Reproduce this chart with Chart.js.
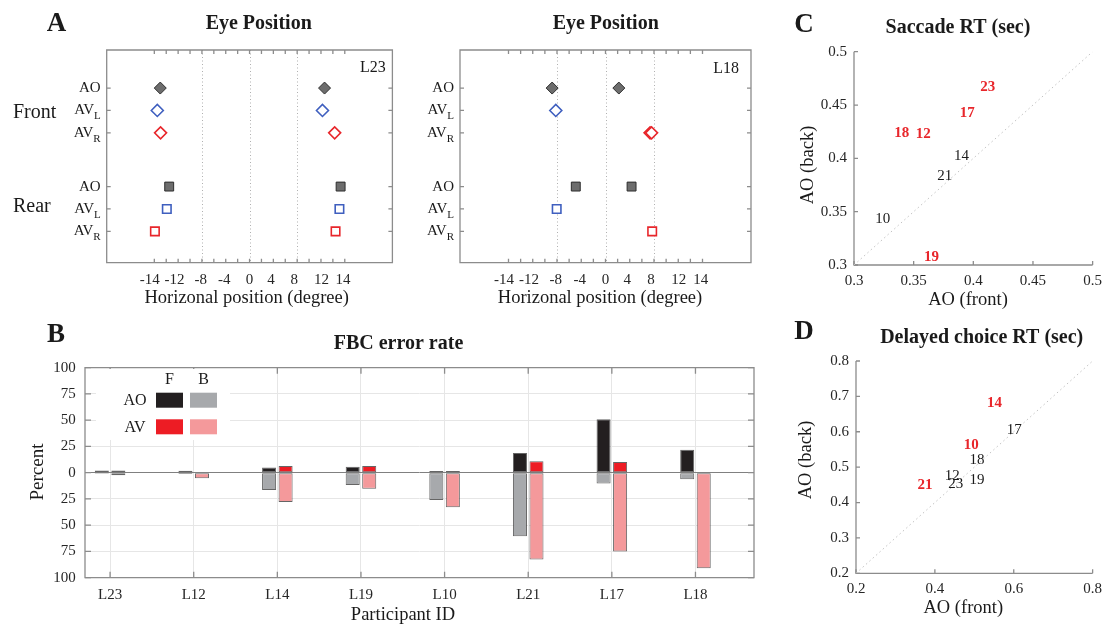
<!DOCTYPE html>
<html>
<head>
<meta charset="utf-8">
<title>Eye position, FBC error rate and RT</title>
<script src="https://cdn.jsdelivr.net/npm/chart.js@4.4.1/dist/chart.umd.min.js"></script>
<style>
  html, body { margin: 0; padding: 0; background: #fff; }
  body { position: relative; width: 1109px; height: 626px; overflow: hidden; }
  canvas { position: absolute; }
</style>
</head>
<body>
<canvas id="eyeL23" width="400" height="320" style="left:0;top:0"></canvas>
<canvas id="eyeL18" width="360" height="320" style="left:400px;top:0"></canvas>
<canvas id="fbc" width="775" height="308" style="left:0;top:318px"></canvas>
<canvas id="saccade" width="329" height="312" style="left:780px;top:0"></canvas>
<canvas id="delayed" width="329" height="316" style="left:780px;top:310px"></canvas>
<script>
// ---- eye position (horizontal position of each fixation, per row) ----
const rowNames = ['AO', 'AV_L', 'AV_R', 'AO', 'AV_L', 'AV_R'];
const rowPos = [1.7, 2.7, 3.7, 6.1, 7.1, 8.1];
const eyeL23 = [[-15.0, 12.6], [-15.5, 12.25], [-14.95, 14.3], [-13.5, 15.3], [-13.9, 15.1], [-15.9, 14.45]];
const eyeL18 = [[-8.8, 2.2], [-8.2], [7.35, 7.6], [-4.9, 4.3], [-8.05], [7.7]];
const eyeTickPos = [-16.75, -12.6, -8.2, -4.25, 0, 3.6, 7.5, 12.1, 15.7];
const eyeTickLabels = ['-14', '-12', '-8', '-4', '0', '4', '8', '12', '14'];
const eyeGuides = [-8, 0, 8];

// ---- FBC error rate (%) ----
const participants = ['L23', 'L12', 'L14', 'L19', 'L10', 'L21', 'L17', 'L18'];
const aoFront = [2, 1.9, 5, 5.7, 1.6, 18.7, 51, 21.8];
const aoBack = [1, 1.2, 16.5, 11.7, 26, 60.5, 10.4, 6.3];
const avFront = [2, 0, 6.3, 6.3, 1.6, 10.8, 10.1, 0];
const avBack = [2.5, 5.4, 28, 15.2, 33, 82.7, 75, 91];
const fbcTicks = [-100, -75, -50, -25, 0, 25, 50, 75, 100];
const legendCols = ['F', 'B'];
const legendRows = ['AO', 'AV'];

// ---- saccade RT (sec) ----
const saccIds = ['23', '17', '18', '12', '14', '21', '10', '19'];
const saccFront = [0.412, 0.395, 0.340, 0.358, 0.390, 0.376, 0.324, 0.365];
const saccBack = [0.467, 0.442, 0.424, 0.423, 0.402, 0.383, 0.343, 0.307];
const saccHigh = [true, true, true, true, false, false, false, true];
const saccTicks = [0.3, 0.35, 0.4, 0.45, 0.5];

// ---- delayed choice RT (sec) ----
const delayIds = ['14', '17', '10', '18', '12', '23', '19', '21'];
const delayFront = [0.551, 0.601, 0.492, 0.507, 0.444, 0.453, 0.507, 0.375];
const delayBack = [0.682, 0.605, 0.563, 0.520, 0.476, 0.452, 0.464, 0.448];
const delayHigh = [true, false, true, false, false, false, false, true];
const delayXTicks = [0.2, 0.4, 0.6, 0.8];
const delayYTicks = [0.2, 0.3, 0.4, 0.5, 0.6, 0.7, 0.8];

const serif = "'Liberation Serif', 'Times New Roman', serif";
const font = (size, bold) => (bold ? 'bold ' : '') + size + 'px ' + serif;
const ink = '#1a1a1a';
const red = '#e8262b';

Chart.defaults.font.family = serif;
Chart.defaults.color = '#262626';
Chart.defaults.animation = false;
Chart.defaults.plugins.legend.display = false;
Chart.defaults.plugins.tooltip.enabled = false;

// free text (titles, panel letters, axis names)
function textLayer(items) {
  return {
    id: 'texts',
    afterDraw(chart) {
      const ctx = chart.ctx;
      items.forEach(t => {
        ctx.save();
        ctx.font = font(t.size, t.bold);
        ctx.fillStyle = t.color || ink;
        ctx.textAlign = t.align || 'center';
        ctx.textBaseline = 'middle';
        ctx.translate(t.x, t.y);
        if (t.rot) ctx.rotate(t.rot);
        ctx.fillText(t.t, 0, 0);
        ctx.restore();
      });
    }
  };
}

// axes box with inward tick marks, plus dotted guides
function frameLayer(o) {
  return {
    id: 'frame',
    beforeDatasetsDraw(chart) {
      const { ctx, chartArea: a, scales } = chart;
      ctx.save();
      if (o.guides) {
        ctx.strokeStyle = '#b0b0b0';
        ctx.lineWidth = 1;
        ctx.setLineDash([1, 2.5]);
        o.guides.forEach(v => {
          const px = Math.round(scales.x.getPixelForValue(v)) + 0.5;
          ctx.beginPath();
          ctx.moveTo(px, a.top);
          ctx.lineTo(px, a.bottom);
          ctx.stroke();
        });
        ctx.setLineDash([]);
      }
      ctx.strokeStyle = o.color;
      ctx.lineWidth = o.width;
      ctx.beginPath();
      (o.xTicks || []).forEach(v => {
        const px = scales.x.getPixelForValue(v);
        ctx.moveTo(px, a.bottom);
        ctx.lineTo(px, a.bottom - o.len);
        if (o.box) { ctx.moveTo(px, a.top); ctx.lineTo(px, a.top + o.len); }
      });
      (o.yTicks || []).forEach(v => {
        const py = scales.y.getPixelForValue(v);
        ctx.moveTo(a.left, py);
        ctx.lineTo(a.left + o.len, py);
        if (o.box) { ctx.moveTo(a.right, py); ctx.lineTo(a.right - o.len, py); }
      });
      ctx.stroke();
      ctx.beginPath();
      if (o.box) {
        ctx.rect(a.left, a.top, a.right - a.left, a.bottom - a.top);
      } else {
        ctx.moveTo(a.left, a.top);
        ctx.lineTo(a.left, a.bottom);
        ctx.lineTo(a.right, a.bottom);
      }
      ctx.stroke();
      ctx.restore();
    }
  };
}

// row names with subscripts (AV_L -> AV with subscript L)
function rowLabelLayer(gap) {
  return {
    id: 'rowLabels',
    afterDraw(chart) {
      const { ctx, chartArea: a, scales } = chart;
      ctx.save();
      ctx.fillStyle = ink;
      ctx.textBaseline = 'middle';
      ctx.textAlign = 'left';
      rowNames.forEach((name, i) => {
        const [main, sub] = name.split('_');
        const y = scales.y.getPixelForValue(rowPos[i]);
        ctx.font = font(15);
        const wm = ctx.measureText(main).width;
        ctx.font = font(11);
        const ws = sub ? ctx.measureText(sub).width : 0;
        const x = a.left - gap - wm - ws;
        ctx.font = font(15);
        ctx.fillText(main, x, y);
        if (sub) {
          ctx.font = font(11);
          ctx.fillText(sub, x + wm, y + 6);
        }
      });
      ctx.restore();
    }
  };
}

const rowStyles = [
  { pointStyle: 'rectRot', pointRadius: 6, backgroundColor: '#6d6d6d', borderColor: '#2e2e2e', borderWidth: 1 },
  { pointStyle: 'rectRot', pointRadius: 6, backgroundColor: '#ffffff', borderColor: '#3f5fbf', borderWidth: 1.6 },
  { pointStyle: 'rectRot', pointRadius: 6, backgroundColor: '#ffffff', borderColor: red, borderWidth: 1.6 },
  { pointStyle: 'rect', pointRadius: 6.3, backgroundColor: '#6d6d6d', borderColor: '#2e2e2e', borderWidth: 1 },
  { pointStyle: 'rect', pointRadius: 6, backgroundColor: '#ffffff', borderColor: '#3f5fbf', borderWidth: 1.6 },
  { pointStyle: 'rect', pointRadius: 6, backgroundColor: '#ffffff', borderColor: red, borderWidth: 1.6 }
];

const minorTicks = [];
for (let v = -16; v <= 16; v += 2) minorTicks.push(v);

function eyeChart(id, values, o) {
  return new Chart(document.getElementById(id), {
    type: 'scatter',
    data: {
      datasets: values.map((xs, r) => Object.assign({
        label: rowNames[r],
        data: xs.map(x => ({ x: x, y: rowPos[r] }))
      }, rowStyles[r]))
    },
    options: {
      responsive: false,
      devicePixelRatio: 1,
      events: [],
      layout: { padding: { top: 50, right: o.right, left: 0, bottom: 0 } },
      scales: {
        x: {
          type: 'linear', min: -24, max: 24,
          grid: { display: false, drawTicks: false },
          border: { display: false },
          afterBuildTicks: ax => { ax.ticks = eyeTickPos.map(v => ({ value: v })); },
          ticks: { autoSkip: false, maxRotation: 0, padding: 8.3, font: { size: 15 },
                   callback: (v, i) => eyeTickLabels[i] },
          afterFit: s => { s.height = 57.3; }
        },
        y: {
          type: 'linear', min: 0, max: 9.5, reverse: true,
          grid: { display: false, drawTicks: false },
          border: { display: false },
          ticks: { display: false },
          afterFit: s => { s.width = o.left; }
        }
      }
    },
    plugins: [
      frameLayer({ box: true, color: '#8c8c8c', width: 1.3, len: 4, xTicks: minorTicks, yTicks: rowPos, guides: eyeGuides }),
      rowLabelLayer(6),
      textLayer(o.texts)
    ]
  });
}

eyeChart('eyeL23', eyeL23, {
  left: 106.7, right: 3.3,
  texts: [
    { t: 'A', x: 56.5, y: 24, size: 27, bold: true },
    { t: 'Eye Position', x: 258.7, y: 24, size: 20, bold: true },
    { t: 'L23', x: 385.7, y: 68, size: 16, align: 'right' },
    { t: 'Front', x: 13, y: 112.7, size: 20, align: 'left' },
    { t: 'Rear', x: 13, y: 206.7, size: 20, align: 'left' },
    { t: 'Horizonal position (degree)', x: 246.7, y: 298.3, size: 18.5 }
  ]
});

eyeChart('eyeL18', eyeL18, {
  left: 60, right: 9,
  texts: [
    { t: 'Eye Position', x: 205.7, y: 24, size: 20, bold: true },
    { t: 'L18', x: 339, y: 69, size: 16, align: 'right' },
    { t: 'Horizonal position (degree)', x: 200, y: 298.3, size: 18.5 }
  ]
});

// ---- FBC error rate: front up, back down, AO and AV side by side ----
function fbcLegendLayer() {
  return {
    id: 'fbcLegend',
    beforeDatasetsDraw(chart) {
      const ctx = chart.ctx;
      const ds = chart.data.datasets;
      ctx.save();
      ctx.fillStyle = '#ffffff';
      ctx.fillRect(96, 51, 134, 71);
      ctx.font = font(16);
      ctx.fillStyle = ink;
      ctx.textAlign = 'center';
      ctx.textBaseline = 'middle';
      const cols = [156, 190];
      const rows = [74.7, 101.3];
      legendCols.forEach((c, k) => ctx.fillText(c, cols[k] + 13.5, 62));
      legendRows.forEach((r, k) => ctx.fillText(r, 135, rows[k] + 8.5));
      ds.forEach((d, k) => {
        ctx.fillStyle = d.backgroundColor;
        ctx.fillRect(cols[k % 2], rows[Math.floor(k / 2)], 27, 15);
      });
      ctx.restore();
    }
  };
}

const barBorder = 'rgba(50,50,50,0.75)';
const toPoints = (vals, sign) => vals.map((v, i) => ({ x: i + 1, y: sign * v }));

new Chart(document.getElementById('fbc'), {
  type: 'bar',
  data: {
    datasets: [
      { label: 'AO F', stack: 'AO', data: toPoints(aoFront, 1), backgroundColor: '#231f20' },
      { label: 'AO B', stack: 'AO', data: toPoints(aoBack, -1), backgroundColor: '#a7a9ac' },
      { label: 'AV F', stack: 'AV', data: toPoints(avFront, 1), backgroundColor: '#ed1c24' },
      { label: 'AV B', stack: 'AV', data: toPoints(avBack, -1), backgroundColor: '#f4999b' }
    ]
  },
  options: {
    responsive: false,
    devicePixelRatio: 1,
    events: [],
    categoryPercentage: 0.395,
    barPercentage: 0.85,
    datasets: { bar: { borderColor: barBorder, borderWidth: 1, borderSkipped: false } },
    layout: { padding: { top: 49.7, right: 21, left: 0, bottom: 0 } },
    scales: {
      x: {
        type: 'linear', min: 0.7, max: 8.7, offset: false,
        grid: { color: '#e6e6e6', drawTicks: false, offset: false },
        border: { display: false },
        afterBuildTicks: ax => { ax.ticks = participants.map((p, i) => ({ value: i + 1 })); },
        ticks: { autoSkip: false, maxRotation: 0, padding: 8.3, font: { size: 15 },
                 callback: (v, i) => participants[i] },
        afterFit: s => { s.height = 48.3; }
      },
      y: {
        type: 'linear', min: -100, max: 100, stacked: true,
        grid: { drawTicks: false, color: c => (c.tick && c.tick.value === 0 ? '#808080' : '#e6e6e6') },
        border: { display: false },
        afterBuildTicks: ax => { ax.ticks = fbcTicks.map(v => ({ value: v })); },
        ticks: { padding: 9.3, font: { size: 15 }, callback: v => String(Math.abs(v)) },
        afterFit: s => { s.width = 85; }
      }
    }
  },
  plugins: [
    frameLayer({ box: true, color: '#8c8c8c', width: 1.3, len: 6,
                 xTicks: participants.map((p, i) => i + 1), yTicks: fbcTicks }),
    fbcLegendLayer(),
    textLayer([
      { t: 'B', x: 56, y: 17, size: 27, bold: true },
      { t: 'FBC error rate', x: 398.5, y: 25.5, size: 20, bold: true },
      { t: 'Percent', x: 38, y: 154, size: 19, rot: -Math.PI / 2 },
      { t: 'Participant ID', x: 403, y: 297, size: 18.5 }
    ])
  ]
});

// ---- RT scatter panels: participant numbers written at (front, back) ----
function idLayer() {
  return {
    id: 'ids',
    afterDatasetsDraw(chart) {
      const ctx = chart.ctx;
      const ds = chart.data.datasets[1];
      const meta = chart.getDatasetMeta(1);
      ctx.save();
      ctx.textAlign = 'center';
      ctx.textBaseline = 'middle';
      meta.data.forEach((pt, i) => {
        const hi = ds.high[i];
        ctx.font = font(15, hi);
        ctx.fillStyle = hi ? red : ink;
        ctx.fillText(ds.ids[i], pt.x, pt.y);
      });
      ctx.restore();
    }
  };
}

function rtChart(id, o) {
  const range = [o.xTicks[0], o.xTicks[o.xTicks.length - 1]];
  return new Chart(document.getElementById(id), {
    type: 'scatter',
    data: {
      datasets: [
        { type: 'line', data: range.map(v => ({ x: v, y: v })), borderColor: '#c2c2c2',
          borderWidth: 1, borderDash: [1.5, 3], pointRadius: 0, fill: false },
        { data: o.front.map((x, i) => ({ x: x, y: o.back[i] })), pointRadius: 0,
          ids: o.ids, high: o.high }
      ]
    },
    options: {
      responsive: false,
      devicePixelRatio: 1,
      events: [],
      layout: { padding: { top: o.top, right: o.right, left: 0, bottom: 0 } },
      scales: {
        x: {
          type: 'linear', min: range[0], max: range[1],
          grid: { display: false, drawTicks: false },
          border: { display: false },
          afterBuildTicks: ax => { ax.ticks = o.xTicks.map(v => ({ value: v })); },
          ticks: { autoSkip: false, maxRotation: 0, padding: 7, font: { size: 15 }, callback: v => String(v) },
          afterFit: s => { s.height = o.bottom; }
        },
        y: {
          type: 'linear', min: o.yTicks[0], max: o.yTicks[o.yTicks.length - 1],
          grid: { display: false, drawTicks: false },
          border: { display: false },
          afterBuildTicks: ax => { ax.ticks = o.yTicks.map(v => ({ value: v })); },
          ticks: { autoSkip: false, padding: 7, font: { size: 15 }, callback: v => String(v) },
          afterFit: s => { s.width = o.left; }
        }
      }
    },
    plugins: [
      frameLayer({ box: false, color: '#8c8c8c', width: 1.3, len: 4, xTicks: o.xTicks, yTicks: o.yTicks }),
      idLayer(),
      textLayer(o.texts)
    ]
  });
}

rtChart('saccade', {
  ids: saccIds, front: saccFront, back: saccBack, high: saccHigh,
  xTicks: saccTicks, yTicks: saccTicks,
  top: 51.7, right: 14, left: 74, bottom: 47,
  texts: [
    { t: 'C', x: 24, y: 25, size: 27, bold: true },
    { t: 'Saccade RT (sec)', x: 178, y: 28, size: 20, bold: true },
    { t: 'AO (back)', x: 28, y: 165, size: 18.5, rot: -Math.PI / 2 },
    { t: 'AO (front)', x: 188, y: 300, size: 18.5 }
  ]
});

rtChart('delayed', {
  ids: delayIds, front: delayFront, back: delayBack, high: delayHigh,
  xTicks: delayXTicks, yTicks: delayYTicks,
  top: 51, right: 12.3, left: 76, bottom: 52.7,
  texts: [
    { t: 'D', x: 24, y: 21.7, size: 27, bold: true },
    { t: 'Delayed choice RT (sec)', x: 201.7, y: 27.5, size: 20, bold: true },
    { t: 'AO (back)', x: 25.7, y: 150, size: 18.5, rot: -Math.PI / 2 },
    { t: 'AO (front)', x: 183.3, y: 298.3, size: 18.5 }
  ]
});
</script>
</body>
</html>
